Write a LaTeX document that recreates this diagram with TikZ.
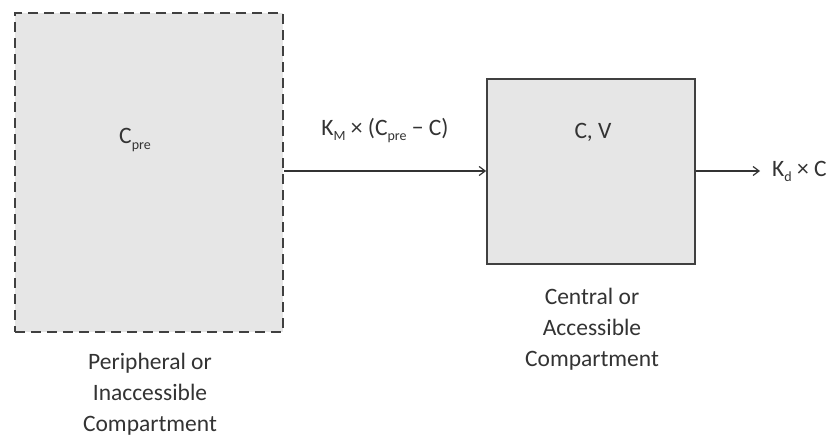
\documentclass[tikz,border=0pt]{standalone}
\usepackage{fontspec}
\setmainfont{Carlito}
\usetikzlibrary{positioning}
\usetikzlibrary{arrows.meta}

\definecolor{boxfill}{HTML}{E6E6E6}
\definecolor{boxline}{HTML}{404040}
\newcommand{\lowsub}[1]{\raisebox{-0.45ex}{\fontsize{14}{14}\selectfont #1}}

\tikzset{
  compbox/.style={draw=boxline, fill=boxfill, line width=1.8pt, inner sep=0pt},
  txt/.style={font=\fontsize{23.5}{31}\selectfont, text=black!80, align=center, inner sep=0pt},
  flow/.style={->, line width=1.2pt, draw=black!80, >={Straight Barb[length=6pt,width=9pt]}}
}

\begin{document}
\begin{tikzpicture}[x=1pt, y=1pt]
  \useasboundingbox (0,0) rectangle (837,-437);
  % compartments
  \node[compbox, dash pattern=on 10pt off 6pt, minimum width=268pt, minimum height=319pt] (peri) at (149,-172.5) {};
  \node[compbox, minimum width=208pt, minimum height=185pt] (cent) at (591,-171.5) {};
  \node[txt] (cpre) at (135,-140) {C\lowsub{pre}};
  \node[txt] (cv) at (593,-132) {C, V};
  % flows
  \coordinate (out) at (760,-171);
  \draw[flow] (peri.east |- 0,-171) -- (cent.west |- 0,-171);
  \draw[flow] (cent.east |- 0,-171) -- (out);
  \node[txt] (kM) at (385,-131) {K\lowsub{M} × (C\lowsub{pre} − C)};
  \node[txt, right=12pt of out] (kd) {K\lowsub{d} × C};
  % names
  \node[txt] (perilab) at (150,-394) {Peripheral or\\Inaccessible\\Compartment};
  \node[txt] (centlab) at (592,-329) {Central or\\Accessible\\Compartment};
\end{tikzpicture}
\end{document}
